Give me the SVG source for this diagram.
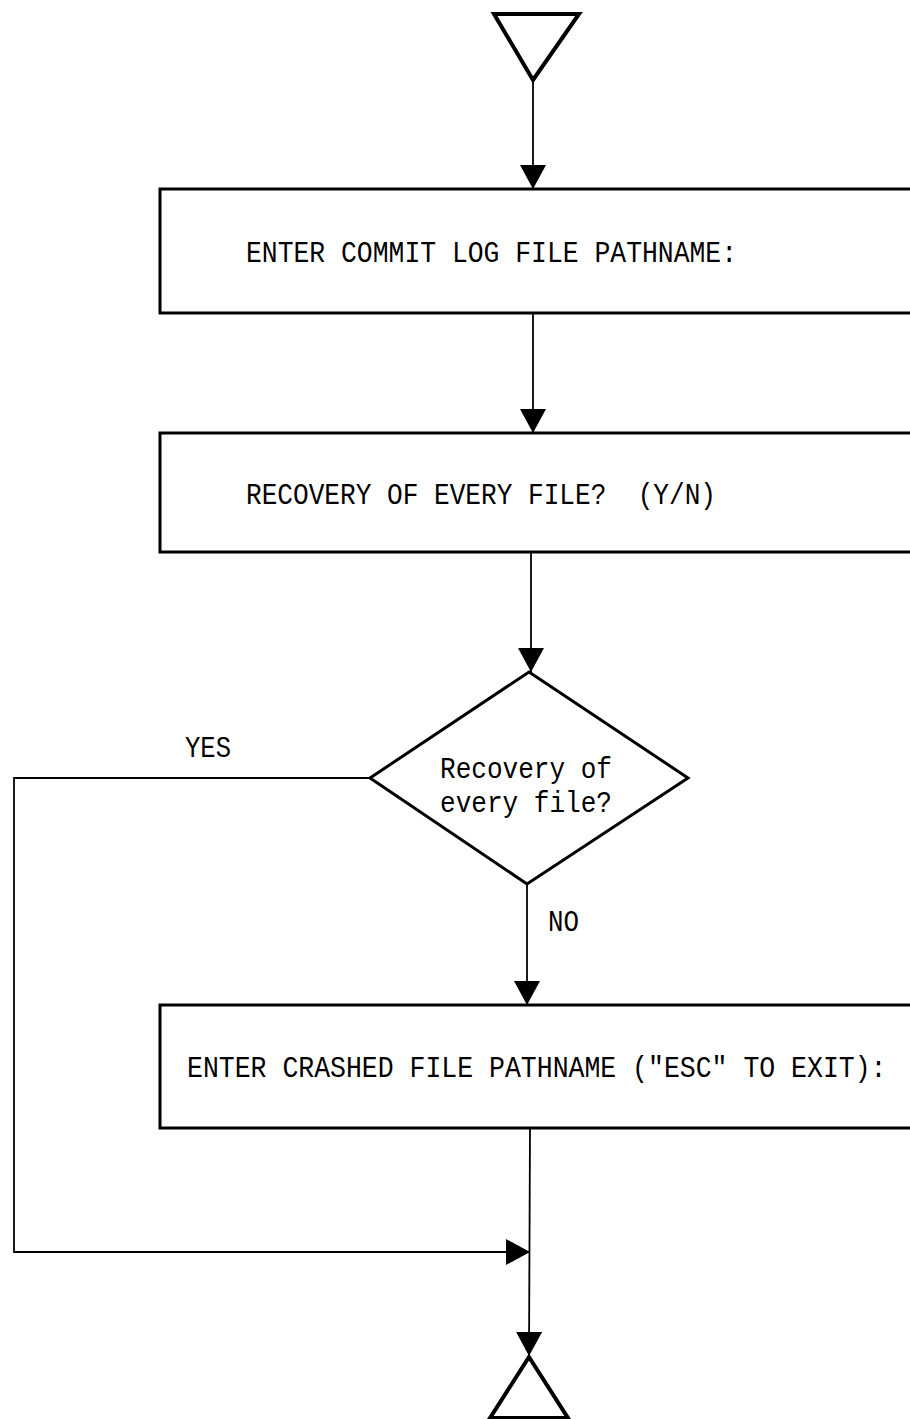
<svg xmlns="http://www.w3.org/2000/svg" width="910" height="1419" viewBox="0 0 910 1419">
  <defs>
    <marker id="arrow" viewBox="0 0 24 26" refX="24" refY="13" markerWidth="24" markerHeight="26" markerUnits="userSpaceOnUse" orient="auto">
      <path d="M0,0 L24,13 L0,26 Z" fill="#000"/>
    </marker>
    <style>
      .box { fill: #fff; stroke: #000; stroke-width: 3; }
      .term { fill: #fff; stroke: #000; stroke-width: 4; stroke-linejoin: miter; }
      .link { fill: none; stroke: #000; stroke-width: 1.8; }
      .lbl { font-family: "Liberation Mono", "DejaVu Sans Mono", monospace; font-size: 30px; fill: #000; white-space: pre; }
      .lbl-tall { font-family: "Liberation Mono", "DejaVu Sans Mono", monospace; font-size: 26.5px; fill: #000; white-space: pre; }
    </style>
  </defs>
  <rect width="910" height="1419" fill="#fff"/>

  <g id="connectors">
    <line class="link" x1="533" y1="80" x2="533" y2="189" marker-end="url(#arrow)"/>
    <line class="link" x1="533" y1="313" x2="533" y2="433" marker-end="url(#arrow)"/>
    <line class="link" x1="531" y1="552" x2="531" y2="672" marker-end="url(#arrow)"/>
    <line class="link" x1="527" y1="884" x2="527" y2="1005" marker-end="url(#arrow)"/>
    <polyline class="link" points="370,778 14,778 14,1252 530,1252" marker-end="url(#arrow)"/>
    <line class="link" x1="530" y1="1128" x2="529" y2="1356" marker-end="url(#arrow)"/>
    <text class="lbl" x="185" y="757" textLength="46" lengthAdjust="spacingAndGlyphs">YES</text>
    <text class="lbl" x="548" y="931" textLength="31" lengthAdjust="spacingAndGlyphs">NO</text>
  </g>

  <g id="start">
    <polygon class="term" points="494,14 579,14 533,80"/>
  </g>

  <!-- process boxes run on past the right margin of the sheet -->
  <g id="commit-log">
    <rect class="box" x="160" y="189" width="752" height="124"/>
    <text class="lbl" x="246" y="262" textLength="491" lengthAdjust="spacingAndGlyphs">ENTER COMMIT LOG FILE PATHNAME:</text>
  </g>

  <g id="recovery-prompt">
    <rect class="box" x="160" y="433" width="752" height="119"/>
    <text class="lbl" x="246" y="504" textLength="470" lengthAdjust="spacingAndGlyphs">RECOVERY OF EVERY FILE?  (Y/N)</text>
  </g>

  <g id="recovery-decision">
    <polygon class="box" points="529,672 688,778 527,884 370,778"/>
    <text class="lbl" x="526" y="778" text-anchor="middle" textLength="172" lengthAdjust="spacingAndGlyphs">Recovery of</text>
    <text class="lbl" x="526" y="812" text-anchor="middle" textLength="172" lengthAdjust="spacingAndGlyphs">every file?</text>
  </g>

  <g id="crashed-file">
    <rect class="box" x="160" y="1005" width="752" height="123"/>
    <!-- long prompt: narrower type stretched upright to keep the same letter height -->
    <text class="lbl-tall" transform="translate(187,1077) scale(1,1.13)">ENTER CRASHED FILE PATHNAME ("ESC" TO EXIT):</text>
  </g>

  <g id="end">
    <polygon class="term" points="529,1357 568,1418 490,1418"/>
  </g>
</svg>
